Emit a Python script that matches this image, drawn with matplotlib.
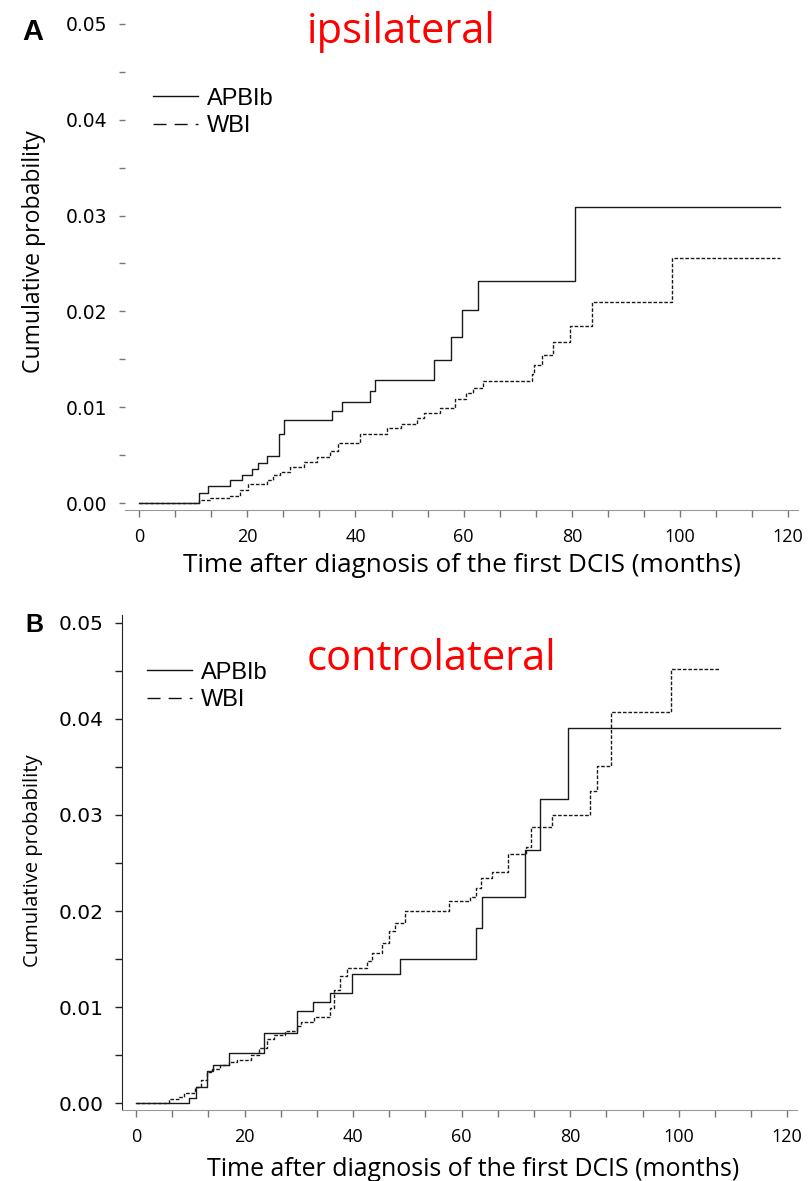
import numpy as np
import matplotlib
matplotlib.use("Agg")
import matplotlib.pyplot as plt
from matplotlib.lines import Line2D

# ---- data (months, cumulative probability) ----
ipsi_apbi_t = [0, 11.1, 12.8, 16.9, 19.0, 20.9, 21.9, 23.6, 25.8, 26.7, 35.7, 37.5,
               42.6, 43.6, 54.6, 57.6, 59.6, 62.7, 80.6, 118.5]
ipsi_apbi_p = [0, 0.0011, 0.0018, 0.0024, 0.0029, 0.0036, 0.0042, 0.0049, 0.0072, 0.0087,
               0.0096, 0.0106, 0.0117, 0.0129, 0.0149, 0.0173, 0.0202, 0.0232, 0.0309, 0.0309]

ipsi_wbi_t = [0, 11.1, 13.1, 16.8, 18.7, 20.2, 23.6, 24.8, 26.1, 27.9, 30.4, 32.8, 35.3,
              36.8, 40.8, 45.8, 48.5, 51.4, 52.7, 55.6, 58.4, 60.5, 61.7, 63.5, 72.6,
              73.0, 74.4, 76.6, 79.7, 83.7, 98.6, 118.5]
ipsi_wbi_p = [0, 0.0003, 0.0005, 0.0008, 0.0014, 0.0020, 0.0024, 0.0029, 0.0033, 0.0038,
              0.0043, 0.0048, 0.0055, 0.0063, 0.0072, 0.0078, 0.0083, 0.0089, 0.0094,
              0.0099, 0.0109, 0.0115, 0.0120, 0.0128, 0.0135, 0.0144, 0.0155, 0.0168,
              0.0185, 0.0210, 0.0256, 0.0256]

contra_apbi_t = [0, 9.8, 11.1, 13.1, 14.2, 17.1, 23.5, 29.7, 32.6, 35.7, 39.7, 48.7,
                 62.7, 63.7, 71.6, 74.5, 79.6, 118.6]
contra_apbi_p = [0, 0.0006, 0.0017, 0.0034, 0.0040, 0.0052, 0.0073, 0.0096, 0.0105,
                 0.0115, 0.0135, 0.0150, 0.0182, 0.0215, 0.0264, 0.0317, 0.0390, 0.0390]

contra_wbi_t = [0, 6.0, 7.9, 8.8, 10.9, 11.9, 13.0, 14.0, 15.5, 17.1, 18.6, 21.1, 22.6,
                24.1, 25.4, 27.5, 29.7, 30.3, 32.7, 35.7, 36.4, 37.5, 38.9, 42.6, 43.5,
                45.3, 46.6, 47.8, 49.6, 57.6, 61.6, 62.7, 63.5, 65.6, 68.6, 71.8, 72.7,
                76.7, 83.7, 85.0, 87.6, 98.6, 107.7]
contra_wbi_p = [0, 0.0004, 0.0007, 0.0011, 0.0017, 0.0024, 0.0033, 0.0036, 0.0040,
                0.0043, 0.0045, 0.0050, 0.0057, 0.0067, 0.0071, 0.0075, 0.0080, 0.0085,
                0.0090, 0.0099, 0.0118, 0.0132, 0.0141, 0.0148, 0.0156, 0.0167, 0.0179,
                0.0188, 0.0200, 0.0210, 0.0215, 0.0224, 0.0234, 0.0241, 0.0259, 0.0267,
                0.0287, 0.0300, 0.0325, 0.0351, 0.0407, 0.0452, 0.0452]

group_labels = ["APBIb", "WBI"]
panel_titles = ["ipsilateral", "controlateral"]
panel_letters = ["A", "B"]
xticklabels = ["0", "20", "40", "60", "80", "100", "120"]
yticklabels = ["0.00", "0.01", "0.02", "0.03", "0.04", "0.05"]

W, H = 811, 1181
fig = plt.figure(figsize=(W / 100, H / 100), dpi=100)


def px_box(left, top, right, bottom):
    return [left / W, 1 - bottom / H, (right - left) / W, (bottom - top) / H]


ax_top = fig.add_axes(px_box(125, 16, 798, 510))
ax_bot = fig.add_axes(px_box(122, 615, 797, 1110))

wbi_dash = (0, (2.6, 1.3))

panels = [
    (ax_top, ipsi_apbi_t, ipsi_apbi_p, ipsi_wbi_t, ipsi_wbi_p),
    (ax_bot, contra_apbi_t, contra_apbi_p, contra_wbi_t, contra_wbi_p),
]

for i, (ax, at, ap, wt, wp) in enumerate(panels):
    ax.step(at, ap, where="post", color="#1a1a1a", lw=1.0)
    ax.step(wt, wp, where="post", color="#1a1a1a", lw=1.0, linestyle=wbi_dash)

    ax.set_xlim(-2.6, 121.8)
    ax.set_ylim(-0.0007, 0.0508)

    ax.set_xticks(np.arange(0, 121, 20 / 3))
    ax.set_xticklabels([xticklabels[k // 3] if k % 3 == 0 else "" for k in range(19)],
                       fontfamily="Open Sans", fontsize=13)
    ax.set_yticks(np.arange(0, 0.0501, 0.005))
    ax.set_yticklabels([yticklabels[k // 2] if k % 2 == 0 else "" for k in range(11)],
                       fontfamily="DejaVu Sans", fontsize=13.5 if i == 0 else 14.5)

    for s in ["top", "right"]:
        ax.spines[s].set_visible(False)
    ax.spines["bottom"].set_color("#999999")
    ax.tick_params(axis="x", length=5, width=1, color="#777777", pad=8)
    if i == 0:
        ax.spines["left"].set_visible(False)
        ax.tick_params(axis="y", length=4, width=1, color="#777777", pad=9)
    else:
        ax.spines["left"].set_color("#222222")
        ax.tick_params(axis="y", length=5, width=1, color="#222222", pad=8)

    handles = [Line2D([], [], color="#111111", lw=1.0),
               Line2D([], [], color="#111111", lw=1.0, linestyle=(0, (9.4, 5.8)))]
    anchor = (0.042, 0.855) if i == 0 else (0.037, 0.906)
    ax.legend(handles, group_labels, loc="upper left", bbox_to_anchor=anchor,
              frameon=False, borderpad=0, borderaxespad=0, handlelength=1.9,
              handletextpad=0.38, labelspacing=0.23,
              prop={"family": "Liberation Sans", "size": 17})

# panel titles, letters and axis labels
fig.text(401 / W, 1 - 43 / H, panel_titles[0], color="red", fontsize=30,
         fontfamily="Open Sans", ha="center", va="baseline")
fig.text(431 / W, 1 - 670 / H, panel_titles[1], color="red", fontsize=30,
         fontfamily="Open Sans", ha="center", va="baseline")
fig.text(22 / W, 1 - 40 / H, panel_letters[0], fontsize=21, fontweight="bold",
         fontfamily="Liberation Sans", va="baseline")
fig.text(25 / W, 1 - 632 / H, panel_letters[1], fontsize=18, fontweight="bold",
         fontfamily="Liberation Sans", va="baseline")

fig.text(34 / W, 1 - 252 / H, "Cumulative probability", rotation=90, fontsize=16.6,
         fontfamily="Open Sans", ha="center", va="center")
fig.text(33 / W, 1 - 861 / H, "Cumulative probability", rotation=90, fontsize=14.5,
         fontfamily="Open Sans", ha="center", va="center")
fig.text(462 / W, 1 - 566 / H, "Time after diagnosis of the first DCIS (months)",
         fontsize=18.8, fontfamily="Open Sans", ha="center", va="center")
fig.text(473 / W, 1 - 1169 / H, "Time after diagnosis of the first DCIS (months)",
         fontsize=17.9, fontfamily="Open Sans", ha="center", va="center")

fig.savefig("out.png", dpi=100)
